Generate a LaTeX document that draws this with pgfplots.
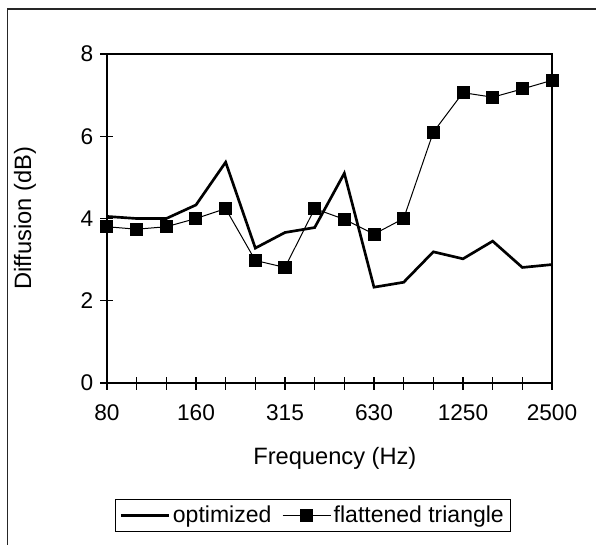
\documentclass[border=0pt]{standalone}
\usepackage{pgfplots}
\pgfplotsset{compat=1.18}
\usepackage{fontspec}
\setmainfont{Liberation Sans}

\begin{document}
\begin{tikzpicture}
\begin{axis}[%
at={(0pt,0pt)},
anchor=south west,
width=333.75pt,
height=246.75pt,
scale only axis,
xmin=0,
xmax=15,
ymin=0,
ymax=8,
xtick={0,...,15},
xticklabels={80,,,160,,,315,,,630,,,1250,,,2500},
ytick={0,2,4,6,8},
tick pos=left,
tick align=center,
major tick length=9.75pt,
tick style={black, line width=0.8pt},
axis line style={line width=0.8pt},
/pgf/number format/assume math mode=true,
font=\fontsize{17.75}{21}\selectfont,
tick label style={font=\fontsize{17}{20}\selectfont},
xticklabel style={yshift=-8pt},
yticklabel style={xshift=-2pt},
xlabel={Frequency (Hz)},
ylabel={Diffusion (dB)},
xlabel style={at={(axis description cs:0.512,-0.228)}, anchor=center},
ylabel style={at={(axis description cs:-0.184,0.5)}, anchor=center},
legend columns=2,
legend style={at={(axis description cs:0.463,-0.403)}, anchor=center,
  draw=black, line width=0.75pt, font=\fontsize{17.25}{20}\selectfont,
  inner xsep=3pt, inner ysep=3pt,
  /tikz/every even column/.append style={column sep=6pt}},
legend image code/.code={\draw[mark repeat=2,mark phase=2,#1] plot coordinates {(0pt,0pt) (18pt,0pt) (36pt,0pt)};},
]
\addplot[black, line width=2pt, no marks] coordinates{
	(0, 4.05)
	(1, 4.00)
	(2, 4.00)
	(3, 4.33)
	(4, 5.37)
	(5, 3.28)
	(6, 3.66)
	(7, 3.78)
	(8, 5.10)
	(9, 2.33)
	(10, 2.45)
	(11, 3.19)
	(12, 3.02)
	(13, 3.45)
	(14, 2.81)
	(15, 2.88)
};
\addlegendentry{optimized};

\addplot[black, line width=0.75pt, mark=square*, mark size=4.5pt] coordinates{
	(0, 3.80)
	(1, 3.74)
	(2, 3.80)
	(3, 4.00)
	(4, 4.24)
	(5, 2.98)
	(6, 2.81)
	(7, 4.24)
	(8, 3.98)
	(9, 3.62)
	(10, 4.00)
	(11, 6.10)
	(12, 7.06)
	(13, 6.95)
	(14, 7.15)
	(15, 7.36)
};
\addlegendentry{flattened triangle};

\end{axis}
\draw[black!85, line width=0.9pt] (-74.6pt,-130pt) -- (-74.6pt,280.5pt) -- (380pt,280.5pt);
\pgfresetboundingbox
\path[use as bounding box] (-80.25pt,-120.75pt) rectangle (366.75pt,287.25pt);
\end{tikzpicture}
\end{document}
